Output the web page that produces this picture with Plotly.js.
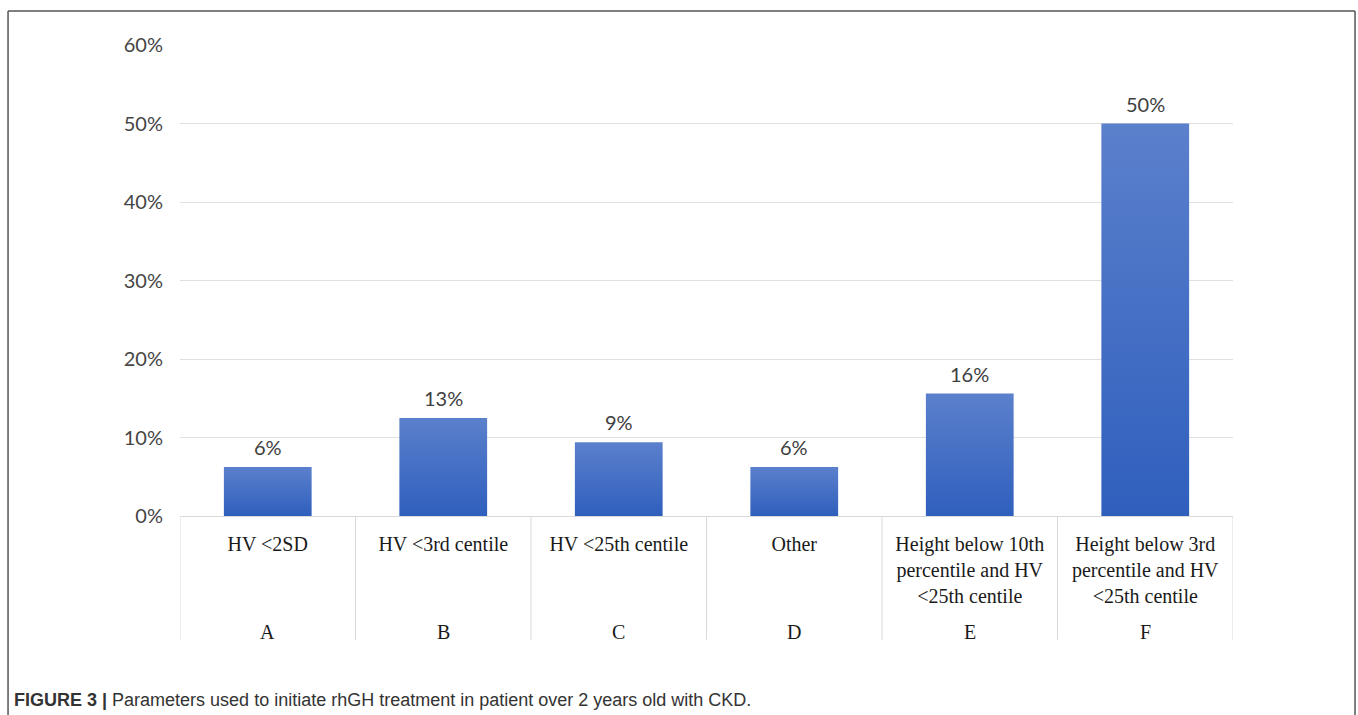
<!DOCTYPE html>
<html>
<head>
<meta charset="utf-8">
<script src="https://cdn.plot.ly/plotly-3.0.1.min.js"></script>
<style>
html,body{margin:0;padding:0;background:#fff;}
#chart{width:1358px;height:715px;}
</style>
</head>
<body>
<div id="chart"></div>
<script>
const categories = ["HV <2SD", "HV <3rd centile", "HV <25th centile", "Other",
  "Height below 10th<br>percentile and HV<br><25th centile",
  "Height below 3rd<br>percentile and HV<br><25th centile"];
const groupLetters = ["A", "B", "C", "D", "E", "F"];
const values = [0.0625, 0.125, 0.094, 0.0625, 0.156, 0.50];
const valueLabels = ["6%", "13%", "9%", "6%", "16%", "50%"];
const yTicks = [0, 0.1, 0.2, 0.3, 0.4, 0.5, 0.6];
const yTickText = ["0%", "10%", "20%", "30%", "40%", "50%", "60%"];
const caption = "<b>FIGURE 3 |</b> Parameters used to initiate rhGH treatment in patient over 2 years old with CKD.";

const idx = categories.map((_, i) => i);

const trace = {
  type: "bar",
  x: idx,
  y: values,
  width: 0.5,
  marker: {color: "#4470c6", line: {width: 0}},
  hoverinfo: "none"
};

const annotations = [];
idx.forEach(i => {
  annotations.push({
    x: i, y: values[i], xref: "x", yref: "y",
    text: valueLabels[i], showarrow: false,
    yanchor: "bottom", yshift: 6,
    font: {family: "Lato, 'Open Sans', sans-serif", size: 20, color: "#404040"}
  });
  annotations.push({
    x: i, y: -0.246, xref: "x", yref: "paper",
    text: groupLetters[i], showarrow: false, yanchor: "middle",
    font: {family: "'Liberation Serif', serif", size: 20, color: "#1a1a1a"}
  });
});
annotations.push({
  x: -0.1595, y: -0.3907, xref: "paper", yref: "paper",
  xanchor: "left", yanchor: "middle", showarrow: false, align: "left",
  text: caption,
  font: {family: "'Liberation Sans', Arial, sans-serif", size: 18, color: "#333333"}
});

const shapes = [];
for (let k = 0; k <= categories.length; k++) {
  shapes.push({
    type: "line", xref: "x", yref: "paper",
    x0: k - 0.5, x1: k - 0.5, y0: 0, y1: -0.263,
    line: {color: "#d9d9d9", width: 1}
  });
}
// figure frame
shapes.push({type: "line", xref: "paper", yref: "paper", x0: -0.1633, x1: -0.1633, y0: 1.0722, y1: -0.5, line: {color: "#555555", width: 1.5}});
shapes.push({type: "line", xref: "paper", yref: "paper", x0: -0.1633, x1: 1.1159, y0: 1.0722, y1: 1.0722, line: {color: "#555555", width: 1.5}});
shapes.push({type: "line", xref: "paper", yref: "paper", x0: 1.1159, x1: 1.1159, y0: 1.0722, y1: -0.5, line: {color: "#555555", width: 1.5}});

const layout = {
  width: 1358, height: 715,
  margin: {l: 180, r: 125, t: 45, b: 199},
  paper_bgcolor: "#ffffff", plot_bgcolor: "#ffffff",
  showlegend: false,
  bargap: 0.5,
  xaxis: {
    range: [-0.5, categories.length - 0.5],
    tickmode: "array", tickvals: idx, ticktext: categories,
    ticks: "outside", ticklen: 10, tickcolor: "rgba(0,0,0,0)",
    showgrid: false, zeroline: false, showline: false,
    tickfont: {family: "'Liberation Serif', serif", size: 20, color: "#1a1a1a"},
    fixedrange: true
  },
  yaxis: {
    range: [0, 0.6],
    tickmode: "array", tickvals: yTicks, ticktext: yTickText,
    ticks: "outside", ticklen: 12, tickcolor: "rgba(0,0,0,0)",
    showgrid: true, gridcolor: "#e0e0e0", gridwidth: 1,
    zeroline: true, zerolinecolor: "#d9d9d9", zerolinewidth: 1,
    showline: false,
    tickfont: {family: "Lato, 'Open Sans', sans-serif", size: 20, color: "#454545"},
    fixedrange: true
  },
  annotations: annotations,
  shapes: shapes
};

Plotly.newPlot("chart", [trace], layout, {staticPlot: true, displayModeBar: false}).then(gd => {
  // vertical gradient fill for bars, like the original
  const svg = gd.querySelector("svg.main-svg");
  const ns = "http://www.w3.org/2000/svg";
  let defs = svg.querySelector("defs");
  if (!defs) { defs = document.createElementNS(ns, "defs"); svg.insertBefore(defs, svg.firstChild); }
  const grad = document.createElementNS(ns, "linearGradient");
  grad.setAttribute("id", "barGrad");
  grad.setAttribute("x1", "0"); grad.setAttribute("y1", "0");
  grad.setAttribute("x2", "0"); grad.setAttribute("y2", "1");
  const s1 = document.createElementNS(ns, "stop");
  s1.setAttribute("offset", "0"); s1.setAttribute("stop-color", "#5b80cc");
  const s2 = document.createElementNS(ns, "stop");
  s2.setAttribute("offset", "1"); s2.setAttribute("stop-color", "#2f5fbd");
  grad.appendChild(s1); grad.appendChild(s2);
  defs.appendChild(grad);
  gd.querySelectorAll(".bars .point path").forEach(p => {
    p.style.fill = "url(#barGrad)";
  });
});
</script>
</body>
</html>
